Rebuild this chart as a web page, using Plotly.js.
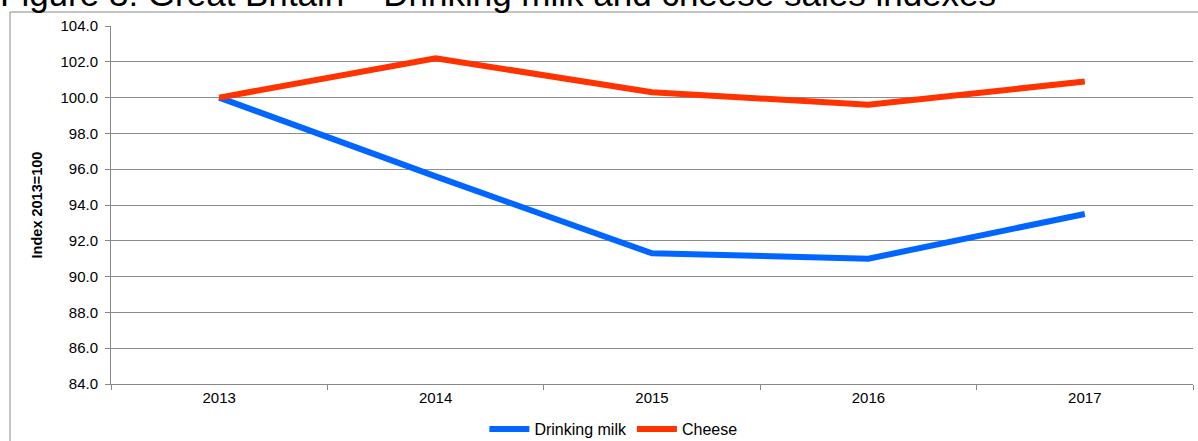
<!DOCTYPE html>
<html>
<head>
<meta charset="utf-8">
<script src="https://cdn.plot.ly/plotly-3.0.1.min.js"></script>
<style>
html,body{margin:0;padding:0;background:#fff;}
#chart{width:1198px;height:441px;}
</style>
</head>
<body>
<div id="chart"></div>
<script>
var years = ['2013', '2014', '2015', '2016', '2017'];
var drinkingMilk = [100.0, 95.6, 91.3, 91.0, 93.5];
var cheese = [100.0, 102.2, 100.3, 99.6, 100.9];
var yTickVals = [84, 86, 88, 90, 92, 94, 96, 98, 100, 102, 104];
var yTickText = yTickVals.map(function(v){ return v.toFixed(1); });

var W = 1198, H = 441;
var mL = 111, mR = 5, mT = 26, mB = 57;
var pw = W - mL - mR, ph = H - mT - mB;
function px2x(p){ return (p - mL) / pw; }
function py2y(p){ return (H - mB - p) / ph; }

var traces = [
  {x: years, y: drinkingMilk, name: 'Drinking milk', type: 'scatter', mode: 'lines',
   line: {color: '#0066FF', width: 6}},
  {x: years, y: cheese, name: 'Cheese', type: 'scatter', mode: 'lines',
   line: {color: '#FF3300', width: 6}}
];

var layout = {
  width: W, height: H,
  margin: {l: mL, r: mR, t: mT, b: mB, pad: 0, autoexpand: false},
  paper_bgcolor: '#ffffff', plot_bgcolor: '#ffffff',
  font: {family: 'Liberation Sans, Arial, sans-serif', color: '#000', size: 15},
  title: {text: 'Figure 3: Great Britain – Drinking milk and cheese sales indexes',
          font: {size: 35, color: '#000', family: 'Liberation Sans, Arial, sans-serif'},
          x: 0, xanchor: 'left', xref: 'container', y: 1 - 6/441, yanchor: 'bottom', pad: {l: 0, t: 0, b: 0}},
  showlegend: true,
  legend: {orientation: 'h', x: 0.512, xanchor: 'center', xref: 'container', y: 1 - 429/441, yanchor: 'middle', yref: 'container',
           font: {size: 16, color: '#000'}, itemwidth: 40, tracegroupgap: 0, bgcolor: 'rgba(0,0,0,0)'},
  xaxis: {type: 'category', range: [-0.5, 4.5], showgrid: false, showline: true,
          linecolor: '#888', linewidth: 1, ticks: 'outside', tickson: 'boundaries',
          ticklen: 5, tickcolor: '#888', tickfont: {size: 15, color: '#000'}, zeroline: false, fixedrange: true,
          automargin: false},
  yaxis: {range: [84, 104], tickvals: yTickVals, ticktext: yTickText, showgrid: true,
          gridcolor: '#8c8c8c', gridwidth: 1, showline: true, linecolor: '#888', linewidth: 1,
          ticks: 'outside', ticklen: 5, tickcolor: '#888', tickfont: {size: 15, color: '#000'},
          ticklabelstandoff: 4,
          zeroline: false, fixedrange: true, automargin: false,
          title: {text: '<b>Index 2013=100</b>', font: {size: 14.5, color: '#000'}, standoff: 14}},
  shapes: [
    {type: 'line', xref: 'paper', yref: 'paper', x0: px2x(10), x1: px2x(1200), y0: py2y(12), y1: py2y(12),
     line: {color: '#888', width: 1}},
    {type: 'line', xref: 'paper', yref: 'paper', x0: px2x(10), x1: px2x(10), y0: py2y(12), y1: py2y(445),
     line: {color: '#888', width: 1}}
  ]
};

Plotly.newPlot('chart', traces, layout, {displayModeBar: false, staticPlot: true});
</script>
</body>
</html>
